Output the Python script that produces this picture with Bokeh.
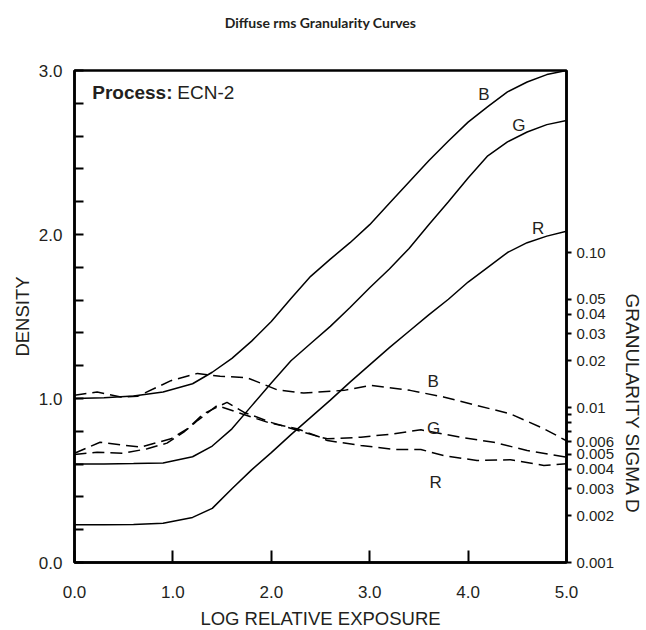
from bokeh.plotting import figure
from bokeh.models import (Range1d, LogScale, LogAxis, FixedTicker, Label,
                          NumeralTickFormatter, Title)
from bokeh.embed import file_html
from bokeh.resources import INLINE

# ---- data -------------------------------------------------------------
log_exposure = [0.0, 0.3, 0.6, 0.9, 1.2, 1.4, 1.6, 1.8, 2.0, 2.2, 2.4, 2.6,
                2.8, 3.0, 3.2, 3.4, 3.6, 3.8, 4.0, 4.2, 4.4, 4.6, 4.8, 5.0]
density_b = [1.00, 1.005, 1.015, 1.04, 1.09, 1.16, 1.245, 1.35, 1.47, 1.61,
             1.745, 1.85, 1.95, 2.06, 2.19, 2.32, 2.45, 2.57, 2.685, 2.78,
             2.87, 2.93, 2.975, 3.0]
density_g = [0.60, 0.60, 0.603, 0.607, 0.645, 0.71, 0.815, 0.955, 1.095, 1.23,
             1.335, 1.44, 1.555, 1.675, 1.79, 1.915, 2.06, 2.20, 2.345, 2.48,
             2.565, 2.625, 2.67, 2.695]
density_r = [0.23, 0.23, 0.232, 0.24, 0.275, 0.33, 0.45, 0.565, 0.67, 0.78,
             0.885, 0.99, 1.10, 1.205, 1.31, 1.41, 1.51, 1.605, 1.71, 1.80,
             1.89, 1.95, 1.99, 2.02]

gran_b_x = [0.0, 0.23, 0.47, 0.64, 0.98, 1.25, 1.48, 1.75, 2.06, 2.33, 2.74,
            3.01, 3.41, 3.75, 4.09, 4.43, 4.77, 5.0]
gran_b = [0.0120, 0.0126, 0.0117, 0.0118, 0.0149, 0.0166, 0.0159, 0.0156,
          0.0130, 0.0124, 0.0129, 0.0139, 0.0129, 0.0117, 0.0103, 0.0091,
          0.0073, 0.0061]
gran_g_x = [0.0, 0.26, 0.67, 0.98, 1.15, 1.31, 1.55, 1.72, 1.99, 2.33, 2.5,
            2.57, 2.91, 3.25, 3.52, 3.92, 4.26, 4.6, 5.0]
gran_g = [0.00507, 0.00597, 0.00555, 0.00628, 0.0073, 0.0091, 0.0108, 0.00933,
          0.00804, 0.00693, 0.00643, 0.00628, 0.00643, 0.00677, 0.00718,
          0.00643, 0.00597, 0.00528, 0.00478]
gran_r_x = [0.0, 0.23, 0.5, 0.74, 0.94, 1.11, 1.25, 1.45, 1.65, 1.99, 2.26,
            2.5, 2.57, 2.91, 3.25, 3.52, 3.75, 4.09, 4.43, 4.77, 5.0]
gran_r = [0.00497, 0.00515, 0.00507, 0.00542, 0.00589, 0.00693, 0.00824,
          0.0103, 0.00933, 0.00792, 0.0073, 0.00643, 0.00612, 0.00569,
          0.00536, 0.00536, 0.0049, 0.00455, 0.0046, 0.00423, 0.00433]

x_ticks = [0, 1, 2, 3, 4, 5]
density_ticks = [0, 1, 2, 3]
density_minor = [0.2, 0.4, 0.6, 0.8, 1.2, 1.4, 1.6, 1.8, 2.2, 2.4, 2.6, 2.8]
gran_ticks = [0.001, 0.002, 0.003, 0.004, 0.005, 0.006, 0.01, 0.02, 0.03,
              0.04, 0.05, 0.10]
gran_tick_labels = ["0.001", "0.002", "0.003", "0.004", "0.005", "0.006",
                    "0.01", "0.02", "0.03", "0.04", "0.05", "0.10"]
gran_minor = [0.007, 0.008, 0.009]

title_text = "Diffuse rms Granularity Curves"
right_title_text = "GRANULARITY SIGMA D"

# ---- figure -----------------------------------------------------------
FONT = "Liberation Sans"
TXT = "#231f20"

p = figure(frame_width=492, frame_height=492, output_backend="svg",
           toolbar_location=None, x_range=Range1d(0, 5), y_range=Range1d(0, 3),
           title=None)
p.min_border_left = 74
p.min_border_right = 80
p.min_border_top = 70
p.min_border_bottom = 60
p.grid.visible = False
p.outline_line_color = "black"
p.outline_line_width = 2.5
p.background_fill_color = "white"
p.border_fill_color = "white"

p.extra_y_ranges = {"gran": Range1d(0.001, 1.494)}
p.extra_y_scales = {"gran": LogScale()}

# title: a blank spacer panel next to the frame, then the real title above it
p.add_layout(Title(text=" ", text_font=FONT, text_font_size="15px",
                   standoff=19), "above")
p.add_layout(Title(text=title_text, align="center",
                   text_font="Lato", text_font_style="bold",
                   text_font_size="14px", text_color=TXT, standoff=4),
             "above")

# x axis
xa = p.xaxis[0]
xa.ticker = FixedTicker(ticks=x_ticks)
xa.formatter = NumeralTickFormatter(format="0.0")
xa.major_tick_in = 12
xa.major_tick_out = 0
xa.major_tick_line_width = 2
xa.axis_line_width = 2.5
xa.major_label_standoff = 23
xa.major_label_text_font = FONT
xa.major_label_text_font_size = "17px"
xa.major_label_text_color = TXT
xa.axis_label = "LOG RELATIVE EXPOSURE"
xa.axis_label_text_font = FONT
xa.axis_label_text_font_style = "normal"
xa.axis_label_text_font_size = "18.5px"
xa.axis_label_text_color = TXT
xa.axis_label_standoff = 7

# left axis
ya = p.yaxis[0]
ya.ticker = FixedTicker(ticks=density_ticks, minor_ticks=density_minor)
ya.formatter = NumeralTickFormatter(format="0.0")
ya.major_tick_in = 9
ya.major_tick_out = 0
ya.minor_tick_in = 9
ya.minor_tick_out = 0
ya.major_tick_line_width = 2
ya.minor_tick_line_width = 2
ya.axis_line_width = 2.5
ya.major_label_standoff = 12
ya.major_label_text_font = FONT
ya.major_label_text_font_size = "17px"
ya.major_label_text_color = TXT
ya.axis_label = "DENSITY"
ya.axis_label_text_font = FONT
ya.axis_label_text_font_style = "normal"
ya.axis_label_text_font_size = "18.5px"
ya.axis_label_text_color = TXT
ya.axis_label_standoff = 3

# right axis
ra = LogAxis(y_range_name="gran",
             ticker=FixedTicker(ticks=gran_ticks, minor_ticks=gran_minor))
ra.major_label_overrides = {t: s for t, s in zip(gran_ticks, gran_tick_labels)}
ra.major_tick_in = 0
ra.major_tick_out = 5
ra.minor_tick_in = 0
ra.minor_tick_out = 5
ra.major_tick_line_width = 2
ra.minor_tick_line_width = 2
ra.axis_line_width = 2.5
ra.major_label_standoff = 5
ra.major_label_text_font = FONT
ra.major_label_text_font_size = "15px"
ra.major_label_text_color = TXT
p.add_layout(ra, "right")

p.add_layout(Title(text=right_title_text, align="left", offset=223,
                   text_font=FONT, text_font_style="normal",
                   text_font_size="19px", text_color=TXT, standoff=8),
             "right")

# curves
for dens in (density_b, density_g, density_r):
    p.line(log_exposure, dens, line_color="black", line_width=1.5)

for gx, gy in ((gran_b_x, gran_b), (gran_g_x, gran_g), (gran_r_x, gran_r)):
    p.line(gx, gy, y_range_name="gran", line_color="black", line_width=1.5,
           line_dash="12 6")

# curve labels
curve_labels = [("B", 4.16, 2.852), ("G", 4.515, 2.665), ("R", 4.713, 2.038),
                ("B", 3.645, 1.105), ("G", 3.65, 0.817), ("R", 3.67, 0.489)]
for t, lx, ly in curve_labels:
    p.add_layout(Label(x=lx, y=ly, text=t, text_font=FONT,
                       text_font_size="17px", text_color=TXT,
                       text_align="center", text_baseline="middle"))

# process note
p.add_layout(Label(x=0.18, y=2.866, text="Process:", text_font=FONT,
                   text_font_style="bold", text_font_size="19px",
                   text_color=TXT, text_baseline="middle"))
p.add_layout(Label(x=1.045, y=2.866, text="ECN-2", text_font=FONT,
                   text_font_size="19px", text_color=TXT,
                   text_baseline="middle"))

open("out.html", "w").write(file_html(p, INLINE))
